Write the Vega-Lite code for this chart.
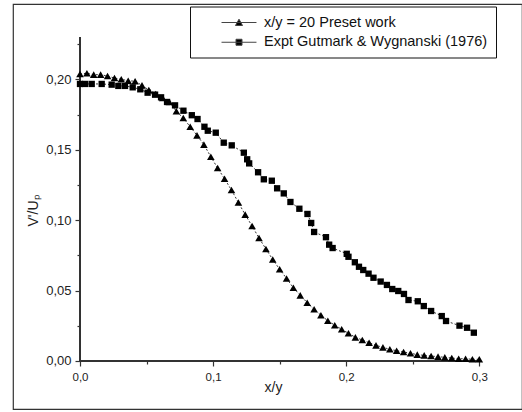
{
  "$schema": "https://vega.github.io/schema/vega-lite/v6.json",
  "width": 509,
  "height": 405,
  "autosize": {"type": "none"},
  "padding": {"left": 13, "top": 4, "right": 0, "bottom": 3},
  "background": "white",
  "config": {
    "view": {"stroke": "#333", "strokeWidth": 1.2},
    "font": "Liberation Sans",
    "axis": {"grid": false, "domain": false, "labelFont": "Liberation Sans", "titleFont": "Liberation Sans", "labelColor": "#222", "titleColor": "#222", "tickColor": "#333", "tickWidth": 1.2, "titleFontWeight": "normal"}
  },
  "data": {
    "values": [
      {"series": "x/y = 20 Preset work", "x": 0, "y": 0.2038},
      {"series": "x/y = 20 Preset work", "x": 0.0052, "y": 0.2043},
      {"series": "x/y = 20 Preset work", "x": 0.0103, "y": 0.2033},
      {"series": "x/y = 20 Preset work", "x": 0.0155, "y": 0.2033},
      {"series": "x/y = 20 Preset work", "x": 0.0207, "y": 0.2023},
      {"series": "x/y = 20 Preset work", "x": 0.0259, "y": 0.2009},
      {"series": "x/y = 20 Preset work", "x": 0.031, "y": 0.2},
      {"series": "x/y = 20 Preset work", "x": 0.0362, "y": 0.199},
      {"series": "x/y = 20 Preset work", "x": 0.0414, "y": 0.1986},
      {"series": "x/y = 20 Preset work", "x": 0.0466, "y": 0.1957},
      {"series": "x/y = 20 Preset work", "x": 0.0517, "y": 0.1924},
      {"series": "x/y = 20 Preset work", "x": 0.0569, "y": 0.1896},
      {"series": "x/y = 20 Preset work", "x": 0.0621, "y": 0.1867},
      {"series": "x/y = 20 Preset work", "x": 0.0672, "y": 0.1839},
      {"series": "x/y = 20 Preset work", "x": 0.0724, "y": 0.1773},
      {"series": "x/y = 20 Preset work", "x": 0.0776, "y": 0.1725},
      {"series": "x/y = 20 Preset work", "x": 0.0828, "y": 0.1663},
      {"series": "x/y = 20 Preset work", "x": 0.0879, "y": 0.1602},
      {"series": "x/y = 20 Preset work", "x": 0.0931, "y": 0.1536},
      {"series": "x/y = 20 Preset work", "x": 0.0983, "y": 0.145},
      {"series": "x/y = 20 Preset work", "x": 0.1034, "y": 0.137},
      {"series": "x/y = 20 Preset work", "x": 0.1086, "y": 0.1294},
      {"series": "x/y = 20 Preset work", "x": 0.1138, "y": 0.1214},
      {"series": "x/y = 20 Preset work", "x": 0.119, "y": 0.1125},
      {"series": "x/y = 20 Preset work", "x": 0.1241, "y": 0.1039},
      {"series": "x/y = 20 Preset work", "x": 0.1293, "y": 0.0958},
      {"series": "x/y = 20 Preset work", "x": 0.1345, "y": 0.0873},
      {"series": "x/y = 20 Preset work", "x": 0.1397, "y": 0.0795},
      {"series": "x/y = 20 Preset work", "x": 0.1448, "y": 0.0721},
      {"series": "x/y = 20 Preset work", "x": 0.15, "y": 0.0651},
      {"series": "x/y = 20 Preset work", "x": 0.1552, "y": 0.0586},
      {"series": "x/y = 20 Preset work", "x": 0.1603, "y": 0.052},
      {"series": "x/y = 20 Preset work", "x": 0.1655, "y": 0.0466},
      {"series": "x/y = 20 Preset work", "x": 0.1707, "y": 0.0414},
      {"series": "x/y = 20 Preset work", "x": 0.1759, "y": 0.0367},
      {"series": "x/y = 20 Preset work", "x": 0.181, "y": 0.0325},
      {"series": "x/y = 20 Preset work", "x": 0.1862, "y": 0.0286},
      {"series": "x/y = 20 Preset work", "x": 0.1914, "y": 0.0254},
      {"series": "x/y = 20 Preset work", "x": 0.1966, "y": 0.0225},
      {"series": "x/y = 20 Preset work", "x": 0.2017, "y": 0.0197},
      {"series": "x/y = 20 Preset work", "x": 0.2069, "y": 0.0168},
      {"series": "x/y = 20 Preset work", "x": 0.2121, "y": 0.0149},
      {"series": "x/y = 20 Preset work", "x": 0.2172, "y": 0.013},
      {"series": "x/y = 20 Preset work", "x": 0.2224, "y": 0.0111},
      {"series": "x/y = 20 Preset work", "x": 0.2276, "y": 0.0097},
      {"series": "x/y = 20 Preset work", "x": 0.2328, "y": 0.0083},
      {"series": "x/y = 20 Preset work", "x": 0.2379, "y": 0.0073},
      {"series": "x/y = 20 Preset work", "x": 0.2431, "y": 0.0064},
      {"series": "x/y = 20 Preset work", "x": 0.2483, "y": 0.0055},
      {"series": "x/y = 20 Preset work", "x": 0.2534, "y": 0.0045},
      {"series": "x/y = 20 Preset work", "x": 0.2586, "y": 0.004},
      {"series": "x/y = 20 Preset work", "x": 0.2638, "y": 0.0035},
      {"series": "x/y = 20 Preset work", "x": 0.269, "y": 0.0031},
      {"series": "x/y = 20 Preset work", "x": 0.2741, "y": 0.0026},
      {"series": "x/y = 20 Preset work", "x": 0.2793, "y": 0.0021},
      {"series": "x/y = 20 Preset work", "x": 0.2845, "y": 0.0016},
      {"series": "x/y = 20 Preset work", "x": 0.2897, "y": 0.0016},
      {"series": "x/y = 20 Preset work", "x": 0.2948, "y": 0.0012},
      {"series": "x/y = 20 Preset work", "x": 0.3, "y": 0.0012},
      {"series": "Expt Gutmark & Wygnanski (1976)", "x": 0, "y": 0.1967},
      {"series": "Expt Gutmark & Wygnanski (1976)", "x": 0.0038, "y": 0.1967},
      {"series": "Expt Gutmark & Wygnanski (1976)", "x": 0.0088, "y": 0.1967},
      {"series": "Expt Gutmark & Wygnanski (1976)", "x": 0.0163, "y": 0.1967},
      {"series": "Expt Gutmark & Wygnanski (1976)", "x": 0.0238, "y": 0.1962},
      {"series": "Expt Gutmark & Wygnanski (1976)", "x": 0.0288, "y": 0.1953},
      {"series": "Expt Gutmark & Wygnanski (1976)", "x": 0.0338, "y": 0.1953},
      {"series": "Expt Gutmark & Wygnanski (1976)", "x": 0.0396, "y": 0.1943},
      {"series": "Expt Gutmark & Wygnanski (1976)", "x": 0.0453, "y": 0.1929},
      {"series": "Expt Gutmark & Wygnanski (1976)", "x": 0.0508, "y": 0.1905},
      {"series": "Expt Gutmark & Wygnanski (1976)", "x": 0.0564, "y": 0.1891},
      {"series": "Expt Gutmark & Wygnanski (1976)", "x": 0.0609, "y": 0.1872},
      {"series": "Expt Gutmark & Wygnanski (1976)", "x": 0.0654, "y": 0.1839},
      {"series": "Expt Gutmark & Wygnanski (1976)", "x": 0.0714, "y": 0.1815},
      {"series": "Expt Gutmark & Wygnanski (1976)", "x": 0.0777, "y": 0.1777},
      {"series": "Expt Gutmark & Wygnanski (1976)", "x": 0.084, "y": 0.1745},
      {"series": "Expt Gutmark & Wygnanski (1976)", "x": 0.0883, "y": 0.1718},
      {"series": "Expt Gutmark & Wygnanski (1976)", "x": 0.0935, "y": 0.1663},
      {"series": "Expt Gutmark & Wygnanski (1976)", "x": 0.096, "y": 0.1635},
      {"series": "Expt Gutmark & Wygnanski (1976)", "x": 0.102, "y": 0.1621},
      {"series": "Expt Gutmark & Wygnanski (1976)", "x": 0.108, "y": 0.155},
      {"series": "Expt Gutmark & Wygnanski (1976)", "x": 0.114, "y": 0.1531},
      {"series": "Expt Gutmark & Wygnanski (1976)", "x": 0.1231, "y": 0.1479},
      {"series": "Expt Gutmark & Wygnanski (1976)", "x": 0.1256, "y": 0.1432},
      {"series": "Expt Gutmark & Wygnanski (1976)", "x": 0.1271, "y": 0.1403},
      {"series": "Expt Gutmark & Wygnanski (1976)", "x": 0.1338, "y": 0.134},
      {"series": "Expt Gutmark & Wygnanski (1976)", "x": 0.1381, "y": 0.129},
      {"series": "Expt Gutmark & Wygnanski (1976)", "x": 0.1441, "y": 0.128},
      {"series": "Expt Gutmark & Wygnanski (1976)", "x": 0.1481, "y": 0.1226},
      {"series": "Expt Gutmark & Wygnanski (1976)", "x": 0.1531, "y": 0.119},
      {"series": "Expt Gutmark & Wygnanski (1976)", "x": 0.1581, "y": 0.1129},
      {"series": "Expt Gutmark & Wygnanski (1976)", "x": 0.1648, "y": 0.1081},
      {"series": "Expt Gutmark & Wygnanski (1976)", "x": 0.1709, "y": 0.1044},
      {"series": "Expt Gutmark & Wygnanski (1976)", "x": 0.1737, "y": 0.098},
      {"series": "Expt Gutmark & Wygnanski (1976)", "x": 0.1759, "y": 0.0916},
      {"series": "Expt Gutmark & Wygnanski (1976)", "x": 0.1848, "y": 0.0879},
      {"series": "Expt Gutmark & Wygnanski (1976)", "x": 0.1872, "y": 0.0826},
      {"series": "Expt Gutmark & Wygnanski (1976)", "x": 0.1898, "y": 0.0802},
      {"series": "Expt Gutmark & Wygnanski (1976)", "x": 0.2004, "y": 0.0761},
      {"series": "Expt Gutmark & Wygnanski (1976)", "x": 0.2017, "y": 0.074},
      {"series": "Expt Gutmark & Wygnanski (1976)", "x": 0.2065, "y": 0.0701},
      {"series": "Expt Gutmark & Wygnanski (1976)", "x": 0.2096, "y": 0.0669},
      {"series": "Expt Gutmark & Wygnanski (1976)", "x": 0.2128, "y": 0.0646},
      {"series": "Expt Gutmark & Wygnanski (1976)", "x": 0.2168, "y": 0.062},
      {"series": "Expt Gutmark & Wygnanski (1976)", "x": 0.2205, "y": 0.0591},
      {"series": "Expt Gutmark & Wygnanski (1976)", "x": 0.2259, "y": 0.0564},
      {"series": "Expt Gutmark & Wygnanski (1976)", "x": 0.2306, "y": 0.054},
      {"series": "Expt Gutmark & Wygnanski (1976)", "x": 0.2346, "y": 0.0511},
      {"series": "Expt Gutmark & Wygnanski (1976)", "x": 0.2391, "y": 0.0497},
      {"series": "Expt Gutmark & Wygnanski (1976)", "x": 0.2434, "y": 0.0476},
      {"series": "Expt Gutmark & Wygnanski (1976)", "x": 0.2468, "y": 0.0433},
      {"series": "Expt Gutmark & Wygnanski (1976)", "x": 0.2538, "y": 0.0424},
      {"series": "Expt Gutmark & Wygnanski (1976)", "x": 0.2583, "y": 0.039},
      {"series": "Expt Gutmark & Wygnanski (1976)", "x": 0.2638, "y": 0.0355},
      {"series": "Expt Gutmark & Wygnanski (1976)", "x": 0.2718, "y": 0.0319},
      {"series": "Expt Gutmark & Wygnanski (1976)", "x": 0.275, "y": 0.0284},
      {"series": "Expt Gutmark & Wygnanski (1976)", "x": 0.2851, "y": 0.0251},
      {"series": "Expt Gutmark & Wygnanski (1976)", "x": 0.2908, "y": 0.0236},
      {"series": "Expt Gutmark & Wygnanski (1976)", "x": 0.2959, "y": 0.0201}
    ]
  },
  "encoding": {
    "x": {
      "field": "x", "type": "quantitative",
      "scale": {"domain": [-0.05034, 0.33208], "nice": false, "zero": false},
      "axis": {
        "values": [0, 0.05, 0.1, 0.15, 0.2, 0.25, 0.3],
        "labelExpr": "abs(datum.value*10 - round(datum.value*10)) < 0.001 ? replace(format(datum.value, '.1f'), '.', ',') : ''",
        "tickSize": {"condition": {"test": "abs(datum.value*10 - round(datum.value*10)) < 0.001", "value": 5}, "value": 3},
        "offset": -48,
        "title": "x/y", "titleX": 260, "titleY": 30, "titleBaseline": "alphabetic", "titleFontSize": 14,
        "labelFontSize": 11.5, "labelPadding": 5, "labelFlush": false, "labelOverlap": false
      }
    },
    "y": {
      "field": "y", "type": "quantitative",
      "scale": {"domain": [-0.03408, 0.25346], "nice": false, "zero": false},
      "axis": {
        "values": [0, 0.025, 0.05, 0.075, 0.1, 0.125, 0.15, 0.175, 0.2, 0.225],
        "labelExpr": "abs(datum.value*20 - round(datum.value*20)) < 0.001 ? replace(format(datum.value, '.2f'), '.', ',') : ''",
        "tickSize": {"condition": {"test": "abs(datum.value*20 - round(datum.value*20)) < 0.001", "value": 5}, "value": 3},
        "offset": -67,
        "title": "V'/Uₚ", "titleAngle": -90, "titleX": -43, "titleY": 206, "titleBaseline": "alphabetic", "titleFontSize": 14,
        "labelFontSize": 13, "labelPadding": 4, "labelFlush": false, "labelOverlap": false
      }
    }
  },
  "layer": [
    {
      "mark": {"type": "rule", "color": "#333", "strokeWidth": 1.3},
      "encoding": {
        "x": {"datum": 0, "type": "quantitative"},
        "y": {"datum": 0, "type": "quantitative"},
        "y2": {"datum": 0.23}
      }
    },
    {
      "mark": {"type": "rule", "color": "#333", "strokeWidth": 1.3},
      "encoding": {
        "x": {"datum": 0, "type": "quantitative"},
        "x2": {"datum": 0.3},
        "y": {"datum": 0, "type": "quantitative"}
      }
    },
    {
      "mark": {"type": "line", "color": "black", "strokeWidth": 0.8, "strokeDash": [2, 2]},
      "encoding": {
        "detail": {"field": "series", "type": "nominal"}
      }
    },
    {
      "transform": [{"filter": "datum.series === 'x/y = 20 Preset work'"}],
      "mark": {"type": "point", "filled": true, "opacity": 1, "color": "black", "size": 58, "shape": "triangle-up"},
      "encoding": {}
    },
    {
      "transform": [{"filter": "datum.series === 'Expt Gutmark & Wygnanski (1976)'"}],
      "mark": {"type": "point", "filled": true, "opacity": 1, "color": "black", "size": 40, "shape": "square"},
      "encoding": {}
    },
    {
      "transform": [{"filter": "false"}],
      "mark": {"type": "point", "filled": true, "opacity": 1, "color": "black"},
      "encoding": {
        "shape": {
          "field": "series", "type": "nominal",
          "scale": {"domain": ["x/y = 20 Preset work", "Expt Gutmark & Wygnanski (1976)"], "range": ["M-2.33,0H2.33M-0.47,0.4L0,-0.44L0.47,0.4Z", "M-2.33,0H2.33M-0.4,-0.4H0.4V0.4H-0.4Z"]},
          "legend": {
            "title": null, "orient": "none", "legendX": 177, "legendY": 2.5,
            "strokeColor": "#111", "fillColor": "white", "padding": 8,
            "symbolSize": 225, "symbolOffset": 33, "labelOffset": 17,
            "symbolFillColor": "black", "symbolStrokeColor": "#444", "symbolStrokeWidth": 1,
            "labelFontSize": 14.5, "labelFont": "Liberation Sans", "labelColor": "#111", "labelLimit": 400,
            "rowPadding": 4.75,
            "encoding": {
              "symbols": {
                "size": {"value": 225},
                "fill": {"value": "black"},
                "stroke": {"value": "#444"},
                "strokeWidth": {"value": 1},
                "opacity": {"value": 1}
              }
            }
          }
        }
      }
    }
  ]
}
